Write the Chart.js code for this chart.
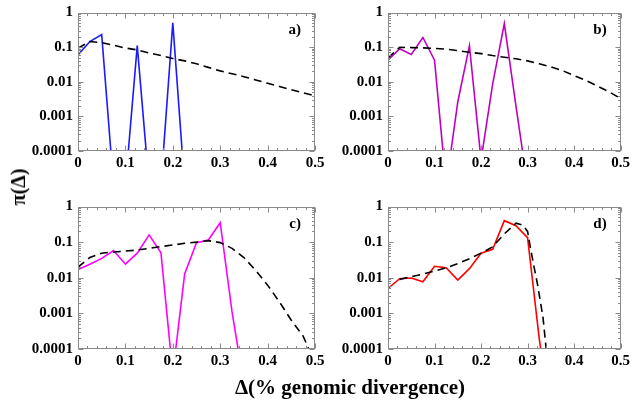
<!DOCTYPE html>
<html>
<head>
<meta charset="utf-8">
<script src="https://cdn.jsdelivr.net/npm/chart.js@4.4.1/dist/chart.umd.min.js"></script>
<style>
  html, body { margin: 0; padding: 0; background: #fff; }
  #wrap { position: relative; width: 635px; height: 407px; overflow: hidden; }
  #wrap canvas { position: absolute; left: 0; top: 0; }
  .axis-title {
    position: absolute;
    font-family: "Liberation Serif", "Times New Roman", serif;
    font-weight: bold;
    color: #000;
    white-space: nowrap;
  }
  #xTitle { left: 350px; top: 374px; font-size: 21px; line-height: 26px; transform: translateX(-50%); }
  #yTitle { left: 18px; top: 187px; font-size: 20px; line-height: 22px; transform: translate(-50%, -50%) rotate(-90deg); }
</style>
</head>
<body>
<div id="wrap">
  <canvas id="chartA" width="635" height="407"></canvas>
  <canvas id="chartB" width="635" height="407"></canvas>
  <canvas id="chartC" width="635" height="407"></canvas>
  <canvas id="chartD" width="635" height="407"></canvas>
  <div id="yTitle" class="axis-title">π(Δ)</div>
  <div id="xTitle" class="axis-title">Δ(% genomic divergence)</div>
</div>
<script>
// Tick labels
const xTicks = [0, 0.1, 0.2, 0.3, 0.4, 0.5];
const yTicks = [1, 0.1, 0.01, 0.001, 0.0001];
const panelLabels = ['a)', 'b)', 'c)', 'd)'];

// Divergence bins (% genomic divergence)
const xGrid = [0, 0.025, 0.05, 0.075, 0.1, 0.125, 0.15, 0.175, 0.2, 0.225, 0.25,
               0.275, 0.3, 0.325, 0.35, 0.375, 0.4, 0.425, 0.45, 0.475, 0.5];

// Sampled distributions, one value per bin from 0 (bins past the last value are empty)
const histA = [0.059, 0.145, 0.23, 1e-5, 1e-5, 0.11, 1e-5, 1e-5, 0.5, 1e-5];
const histB = [0.042, 0.09, 0.061, 0.19, 0.042, 1e-5, 0.0026, 0.11, 5.5e-5, 0.0087, 0.48, 0.002, 1e-5];
const histC = [0.017, 0.024, 0.035, 0.058, 0.024, 0.049, 0.16, 0.05, 2e-5, 0.0127, 0.097, 0.115, 0.35, 0.0011, 1e-5];
const histD = [0.005, 0.0094, 0.0098, 0.0077, 0.021, 0.019, 0.0086, 0.018, 0.049, 0.063, 0.40, 0.29, 0.134, 0.0002, 1e-6];

// Model curves (dashed), on xGrid
const fitA = [0.094, 0.145, 0.135, 0.114, 0.094, 0.083, 0.068, 0.057, 0.047, 0.040, 0.033,
              0.026, 0.0206, 0.017, 0.014, 0.0113, 0.009, 0.0073, 0.0059, 0.0048, 0.0039];
const fitB = [0.049, 0.098, 0.097, 0.095, 0.092, 0.087, 0.079, 0.071, 0.065, 0.057, 0.051,
              0.046, 0.040, 0.033, 0.027, 0.021, 0.015, 0.011, 0.0075, 0.0051, 0.0033];
const fitC = [0.020, 0.037, 0.049, 0.053, 0.056, 0.060, 0.067, 0.075, 0.083, 0.093, 0.10,
              0.11, 0.097, 0.067, 0.037, 0.016, 0.0062, 0.0021, 0.00064, 0.00023, 0.00004];

// Panel d model has its own sampling (sharp cut-off near 0.3)
const fitDx = [0.025, 0.05, 0.075, 0.1, 0.125, 0.15, 0.175, 0.2, 0.225, 0.25, 0.275,
               0.29, 0.3, 0.307, 0.314, 0.321, 0.333, 0.34, 0.35];
const fitD = [0.009, 0.0107, 0.0127, 0.0155, 0.019, 0.025, 0.034, 0.049, 0.074, 0.17, 0.34,
              0.3, 0.2, 0.06, 0.02, 0.0069, 0.0008, 0.0001, 0.00001];

const W = 635, H = 407;
const Y_AXIS_W = 70, X_AXIS_H = 30;
const serif = '"Liberation Serif", "Times New Roman", serif';

// frame with inward ticks on all four sides + panel letter
const frameTicks = {
    id: 'frameTicks',
    afterDatasetsDraw(chart, args, opts)
    {
        const { ctx, chartArea: a, scales: { x, y } } = chart;
        const L = Math.round(a.left) + 0.5, R = Math.round(a.right) - 0.5;
        const T = Math.round(a.top) + 0.5, B = Math.round(a.bottom) - 0.5;

        ctx.save();
        ctx.strokeStyle = '#8a8a8a';
        ctx.lineWidth = 1;
        ctx.strokeRect(L, T, R - L, B - T);

        ctx.beginPath();
        for (let i = 0; i <= 25; i++)
        {
            const px = Math.round(x.getPixelForValue(i * 0.02)) + 0.5;
            const len = (i % 5 === 0) ? 5 : 2.5;
            ctx.moveTo(px, B); ctx.lineTo(px, B - len);
            ctx.moveTo(px, T); ctx.lineTo(px, T + len);
        }
        for (let e = -4; e <= 0; e++)
        {
            for (let m = 1; m <= 9; m++)
            {
                if (e === 0 && m > 1) break;
                const py = Math.round(y.getPixelForValue(m * Math.pow(10, e))) + 0.5;
                const len = (m === 1) ? 5 : 2.5;
                ctx.moveTo(L, py); ctx.lineTo(L + len, py);
                ctx.moveTo(R, py); ctx.lineTo(R - len, py);
            }
        }
        ctx.stroke();

        ctx.fillStyle = '#000';
        ctx.font = 'bold 15px ' + serif;
        ctx.textAlign = 'right';
        ctx.textBaseline = 'alphabetic';
        ctx.fillText(opts.label, a.right - 14, a.top + 21);
        ctx.restore();
    }
};

const tickFont = { family: serif, size: 15, weight: 'bold', lineHeight: 1 };

function makePanel(canvasId, p)
{
    const [left, top, right, bottom] = p.area;

    const datasets = [
        {
            data: p.fitX.map((v, i) => ({ x: v, y: p.fit[i] })),
            borderColor: '#000',
            borderWidth: 1.6,
            borderDash: [8, 5],
            pointRadius: 0,
        },
        {
            data: p.hist.map((v, i) => ({ x: xGrid[i], y: v })),
            borderColor: p.color,
            borderWidth: 1.6,
            pointRadius: 0,
        },
    ];

    return new Chart(document.getElementById(canvasId), {
        type: 'line',
        data: { datasets: datasets },
        options: {
            responsive: false,
            animation: false,
            events: [],
            layout: {
                padding: { left: left - Y_AXIS_W, top: top, right: W - right, bottom: H - bottom - X_AXIS_H }
            },
            plugins: {
                legend: { display: false },
                tooltip: { enabled: false },
                frameTicks: { label: p.label },
            },
            scales: {
                x: {
                    type: 'linear',
                    min: 0,
                    max: 0.5,
                    grid: { display: false, drawTicks: false },
                    border: { display: false },
                    afterBuildTicks: s => { s.ticks = xTicks.map(v => ({ value: v })); },
                    afterFit: s => { s.height = X_AXIS_H; },
                    ticks: {
                        font: tickFont, color: '#000', padding: 5,
                        maxRotation: 0, autoSkip: false,
                        callback: v => String(v),
                    },
                },
                y: {
                    type: 'logarithmic',
                    min: 0.0001,
                    max: 1,
                    grid: { display: false, drawTicks: false },
                    border: { display: false },
                    afterBuildTicks: s => { s.ticks = yTicks.map(v => ({ value: v })); },
                    afterFit: s => { s.width = Y_AXIS_W; },
                    ticks: {
                        font: tickFont, color: '#000', padding: 5,
                        autoSkip: false,
                        callback: v => String(v),
                    },
                },
            },
        },
        plugins: [frameTicks],
    });
}

makePanel('chartA', { area: [78, 8.5, 315, 151], label: panelLabels[0], color: '#1a1aff', hist: histA, fitX: xGrid, fit: fitA });
makePanel('chartB', { area: [388, 8.5, 624, 151], label: panelLabels[1], color: '#c000c0', hist: histB, fitX: xGrid, fit: fitB });
makePanel('chartC', { area: [78, 206.5, 315, 349], label: panelLabels[2], color: '#ff00ff', hist: histC, fitX: xGrid, fit: fitC });
makePanel('chartD', { area: [388, 206.5, 624, 349], label: panelLabels[3], color: '#ff0000', hist: histD, fitX: fitDx, fit: fitD });
</script>
</body>
</html>
